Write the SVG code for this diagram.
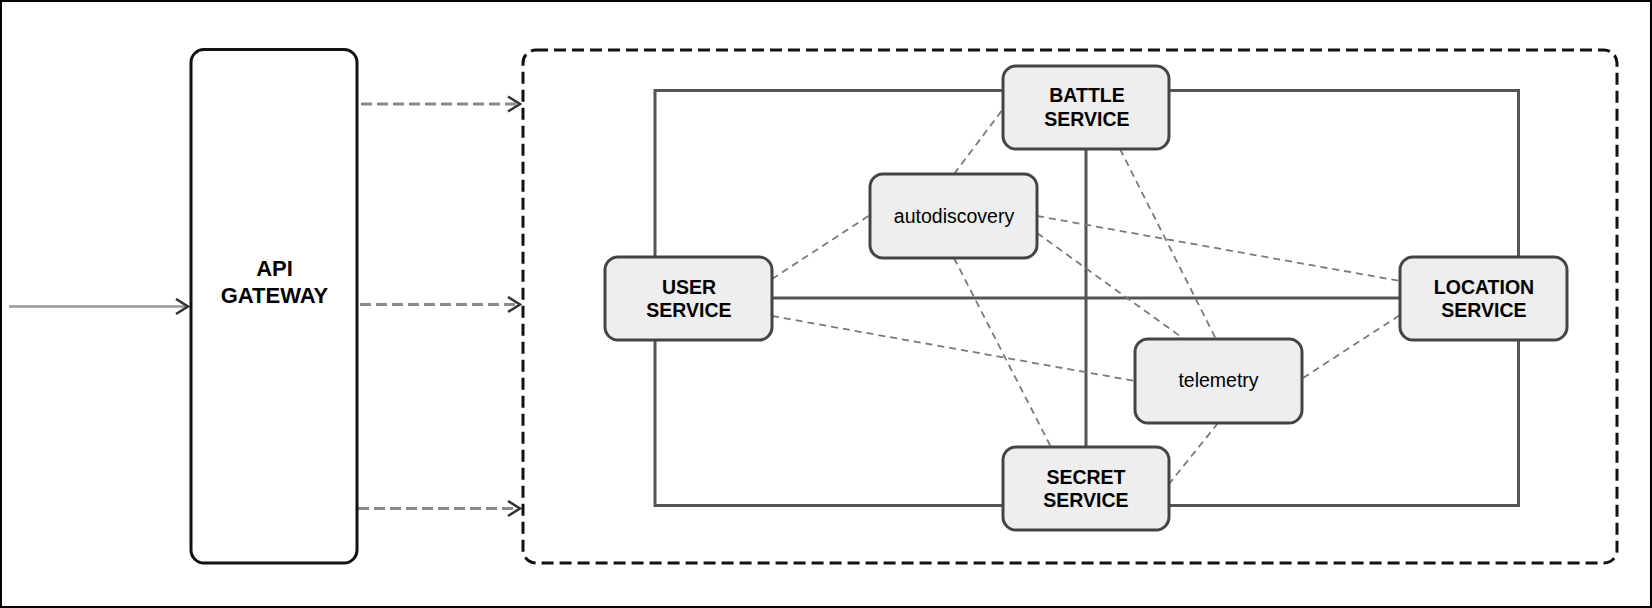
<svg xmlns="http://www.w3.org/2000/svg" width="1652" height="608" viewBox="0 0 1652 608">
<style>
.bold{font-family:"Liberation Sans",Arial,sans-serif;font-weight:bold;font-size:19.5px;fill:#000;text-anchor:middle}
.big{font-size:22px}
.plain{font-family:"Liberation Sans",Arial,sans-serif;font-size:19.5px;fill:#000;text-anchor:middle}
.svc{fill:#eeeeee;stroke:#444;stroke-width:3}
.thin{fill:none;stroke:#7a7a7a;stroke-width:1.8;stroke-dasharray:7 5}
.solid{fill:none;stroke:#555;stroke-width:3}
.gw{fill:none;stroke:#8a8a8a;stroke-width:3;stroke-dasharray:11 5}
</style>
<defs>
<marker id="chev" viewBox="0 0 16 18" refX="14" refY="9" markerWidth="16" markerHeight="18" markerUnits="userSpaceOnUse" orient="auto">
<path d="M2,1.5 L14,9 L2,16.5" fill="none" stroke="#333" stroke-width="2.6" stroke-dasharray="none"/>
</marker>
</defs>
<rect x="1" y="1" width="1650" height="606" fill="#fff" stroke="#000" stroke-width="2"/>
<g id="container">
<rect x="523" y="50" width="1094" height="513" rx="13" fill="none" stroke="#111" stroke-width="3" stroke-dasharray="12 6"/>
</g>
<g id="connectors">
<line x1="9" y1="306.5" x2="188" y2="306.5" stroke="#999" stroke-width="2.5" marker-end="url(#chev)"/>
<line class="gw" x1="361" y1="104" x2="520" y2="104" marker-end="url(#chev)"/>
<line class="gw" x1="360" y1="304.5" x2="520" y2="304.5" marker-end="url(#chev)"/>
<line class="gw" x1="358" y1="508.5" x2="520" y2="508.5" marker-end="url(#chev)"/>
<rect class="solid" x="655" y="90.5" width="863.5" height="415"/>
<line class="solid" x1="1086" y1="149" x2="1086" y2="447"/>
<line class="solid" x1="772" y1="298" x2="1400" y2="298"/>
<line class="thin" x1="954" y1="174" x2="1003" y2="109"/>
<line class="thin" x1="772" y1="279" x2="870" y2="215"/>
<line class="thin" x1="1037" y1="216" x2="1400" y2="281"/>
<line class="thin" x1="1037" y1="233" x2="1184" y2="339"/>
<line class="thin" x1="1120" y1="149" x2="1216" y2="339"/>
<line class="thin" x1="772" y1="316" x2="1135" y2="381"/>
<line class="thin" x1="954" y1="258" x2="1051" y2="447"/>
<line class="thin" x1="1218" y1="423" x2="1169" y2="484"/>
<line class="thin" x1="1303" y1="378" x2="1400" y2="315"/>
</g>
<g id="api-gateway">
<rect x="191" y="49.5" width="166" height="513.5" rx="13" fill="#fff" stroke="#111" stroke-width="3"/>
<text class="bold big" x="274.5" y="276">API</text>
<text class="bold big" x="274.5" y="303">GATEWAY</text>
</g>
<g id="battle-service">
<rect class="svc" x="1003" y="66" width="166" height="83" rx="13"/>
<text class="bold" x="1087" y="102">BATTLE</text>
<text class="bold" x="1087" y="125.5">SERVICE</text>
</g>
<g id="autodiscovery">
<rect class="svc" x="870" y="174" width="167" height="84" rx="13"/>
<text class="plain" x="954" y="222.5">autodiscovery</text>
</g>
<g id="user-service">
<rect class="svc" x="605" y="257" width="167" height="83" rx="13"/>
<text class="bold" x="689" y="294">USER</text>
<text class="bold" x="689" y="316.5">SERVICE</text>
</g>
<g id="location-service">
<rect class="svc" x="1400" y="257" width="167" height="83" rx="13"/>
<text class="bold" x="1484" y="293.5">LOCATION</text>
<text class="bold" x="1484" y="316.5">SERVICE</text>
</g>
<g id="telemetry">
<rect class="svc" x="1135" y="339" width="167" height="84" rx="13"/>
<text class="plain" x="1218.5" y="387">telemetry</text>
</g>
<g id="secret-service">
<rect class="svc" x="1003" y="447" width="166" height="83" rx="13"/>
<text class="bold" x="1086" y="483.5">SECRET</text>
<text class="bold" x="1086" y="506.5">SERVICE</text>
</g>
</svg>
